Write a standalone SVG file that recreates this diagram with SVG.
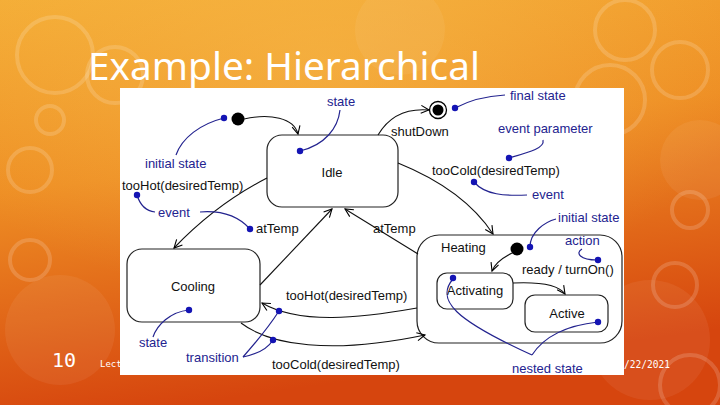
<svg xmlns="http://www.w3.org/2000/svg" width="720" height="405" viewBox="0 0 720 405">
<defs>
<linearGradient id="bg" x1="0" y1="0" x2="0.25" y2="1">
<stop offset="0" stop-color="#F4AC35"/>
<stop offset="0.45" stop-color="#EE8E24"/>
<stop offset="1" stop-color="#D6450E"/>
</linearGradient>
<radialGradient id="glow" cx="0.45" cy="0.15" r="0.6">
<stop offset="0" stop-color="#F8C050" stop-opacity="0.5"/>
<stop offset="1" stop-color="#F8C050" stop-opacity="0"/>
</radialGradient>
<marker id="arr" markerUnits="userSpaceOnUse" markerWidth="12" markerHeight="12" refX="9" refY="5" orient="auto">
<path d="M1,1 L9,5 L1,9" fill="none" stroke="#000" stroke-width="1.1"/>
</marker>
<style>
.ring{fill:none;stroke:#fff;stroke-opacity:0.16;stroke-width:4}
.blob{fill:#fff;fill-opacity:0.06}
.st{fill:#fff;stroke:#222;stroke-width:1.2}
.t{font-family:"Liberation Sans",Arial,sans-serif;font-size:13px;fill:#111}
.c{text-anchor:middle}
.a{font-family:"Liberation Sans",Arial,sans-serif;font-size:13px;fill:#23238f}
.an{fill:none;stroke:#23238f;stroke-width:1.2}
.dot{fill:#1414b4}
.tr{fill:none;stroke:#111;stroke-width:1.1}
</style>
</defs>
<rect width="720" height="405" fill="url(#bg)"/>
<rect width="720" height="405" fill="url(#glow)"/>
<g id="decor">
<circle class="ring" cx="55" cy="55" r="38"/>
<circle class="ring" cx="115" cy="75" r="28"/>
<circle class="ring" cx="30" cy="170" r="22"/>
<circle class="ring" cx="50" cy="120" r="14"/>
<circle class="ring" cx="625" cy="30" r="30"/>
<circle class="ring" cx="680" cy="70" r="28"/>
<circle class="ring" cx="610" cy="100" r="35"/>
<circle class="ring" cx="690" cy="210" r="18"/>
<circle class="ring" cx="675" cy="285" r="22"/>
<circle class="ring" cx="30" cy="260" r="20"/>
<circle class="ring" cx="690" cy="385" r="30"/>
<circle class="blob" cx="60" cy="330" r="55"/>
<circle class="blob" cx="650" cy="340" r="60"/>
<circle class="blob" cx="400" cy="30" r="45"/>
<circle class="blob" cx="700" cy="160" r="40"/>
</g>
<text x="88" y="80" font-family="'Noto Sans','DejaVu Sans',sans-serif" font-size="38" fill="#fff" textLength="392" lengthAdjust="spacingAndGlyphs">Example: Hierarchical</text>
<text x="52" y="367" font-family="'DejaVu Sans Mono','Liberation Mono',monospace" font-size="20" fill="#fff">10</text>
<text x="100" y="367" font-family="'DejaVu Sans Mono','Liberation Mono',monospace" font-size="9" fill="#fff">Lect</text>
<text x="624" y="368" font-family="'DejaVu Sans Mono','Liberation Mono',monospace" font-size="10" fill="#fff" textLength="46" lengthAdjust="spacingAndGlyphs">/22/2021</text>
<rect x="120" y="88" width="504" height="287" fill="#fff"/>

<g id="Idle"><rect class="st" x="267" y="135" width="131" height="72" rx="15"/><text class="t c" x="332" y="177">Idle</text></g>
<g id="Cooling"><rect class="st" x="127" y="249" width="133" height="73" rx="15"/><text class="t c" x="193" y="291">Cooling</text></g>
<g id="Heating"><rect class="st" x="417" y="235" width="205" height="108" rx="22"/><text class="t" x="441" y="252">Heating</text></g>
<g id="Activating"><rect class="st" x="437" y="273" width="76" height="36" rx="10"/><text class="t c" x="475" y="295">Activating</text></g>
<g id="Active"><rect class="st" x="525" y="295" width="83" height="37" rx="10"/><text class="t c" x="567" y="318">Active</text></g>
<g id="init1"><circle cx="238" cy="119" r="6.5" fill="#000"/></g>
<g id="init2"><circle cx="517" cy="249" r="6.5" fill="#000"/></g>
<g id="final"><circle cx="438" cy="110" r="8.5" fill="#fff" stroke="#000" stroke-width="1.3"/><circle cx="438" cy="110" r="5.5" fill="#000"/></g>

<g id="connectors">
<path class="tr" d="M244,119 C270,113 294,118 298,134" marker-end="url(#arr)"/>
<path class="tr" d="M378,135 C388,118 405,108 429,110" marker-end="url(#arr)"/>
<path class="tr" d="M267,178 C228,198 196,225 174,248" marker-end="url(#arr)"/>
<path class="tr" d="M398,163 C440,180 472,202 493,234" marker-end="url(#arr)"/>
<path class="tr" d="M260,285 L332,209" marker-end="url(#arr)"/>
<path class="tr" d="M418,254 L345,209" marker-end="url(#arr)"/>
<path class="tr" d="M417,308 C360,318 300,325 262,303" marker-end="url(#arr)"/>
<path class="tr" d="M241,323 C270,345 330,355 425,335" marker-end="url(#arr)"/>
<path class="tr" d="M512,253 C502,258 495,263 492,271" marker-end="url(#arr)"/>
<path class="tr" d="M513,283 C535,282 558,284 565,294" marker-end="url(#arr)"/>
<text class="t" x="391" y="136">shutDown</text>
<text class="t" x="432" y="175">tooCold(desiredTemp)</text>
<text class="t" x="122" y="190">tooHot(desiredTemp)</text>
<text class="t" x="256" y="233">atTemp</text>
<text class="t" x="373" y="233">atTemp</text>
<text class="t" x="522" y="274">ready / turnOn()</text>
<text class="t" x="286" y="300">tooHot(desiredTemp)</text>
<text class="t" x="272" y="369">tooCold(desiredTemp)</text>
</g>

<g id="annotations">
<path class="an" d="M224,118 C200,124 182,138 176,155"/>
<path class="an" d="M300,151 C325,145 338,128 340,110"/>
<path class="an" d="M455,108 C470,100 488,96 505,95"/>
<path class="an" d="M509,158 C530,152 545,148 543,140"/>
<path class="an" d="M474,182 C485,195 505,196 527,195"/>
<path class="an" d="M137,195 C140,205 146,211 155,212"/>
<path class="an" d="M200,212 C225,210 240,218 250,229"/>
<path class="an" d="M530,247 C530,232 545,222 556,219"/>
<path class="an" d="M582,249 C575,253 580,260 597,260"/>
<path class="an" d="M189,310 C170,312 157,325 153,337"/>
<path class="an" d="M243,357 C258,340 270,325 279,311"/>
<path class="an" d="M243,357 C258,354 268,348 273,340"/>
<path class="an" d="M453,279 C435,300 455,320 532,355"/>
<path class="an" d="M598,322 C570,325 545,335 532,355"/>
<circle class="dot" cx="224" cy="118" r="3.2"/>
<circle class="dot" cx="300" cy="151" r="3.2"/>
<circle class="dot" cx="455" cy="108" r="3.2"/>
<circle class="dot" cx="509" cy="158" r="3.2"/>
<circle class="dot" cx="474" cy="182" r="3.2"/>
<circle class="dot" cx="137" cy="195" r="3.2"/>
<circle class="dot" cx="250" cy="229" r="3.2"/>
<circle class="dot" cx="530" cy="247" r="3.2"/>
<circle class="dot" cx="598" cy="260" r="3.2"/>
<circle class="dot" cx="189" cy="310" r="3.2"/>
<circle class="dot" cx="279" cy="311" r="3.2"/>
<circle class="dot" cx="273" cy="340" r="3.2"/>
<circle class="dot" cx="453" cy="278" r="3.2"/>
<circle class="dot" cx="598" cy="322" r="3.2"/>
<text class="a" x="327" y="106">state</text>
<text class="a" x="510" y="100">final state</text>
<text class="a" x="145" y="168">initial state</text>
<text class="a" x="498" y="133">event parameter</text>
<text class="a" x="532" y="199">event</text>
<text class="a" x="158" y="217">event</text>
<text class="a" x="558" y="222">initial state</text>
<text class="a" x="565" y="245">action</text>
<text class="a" x="139" y="347">state</text>
<text class="a" x="186" y="362">transition</text>
<text class="a" x="512" y="373">nested state</text>
</g>
</svg>
